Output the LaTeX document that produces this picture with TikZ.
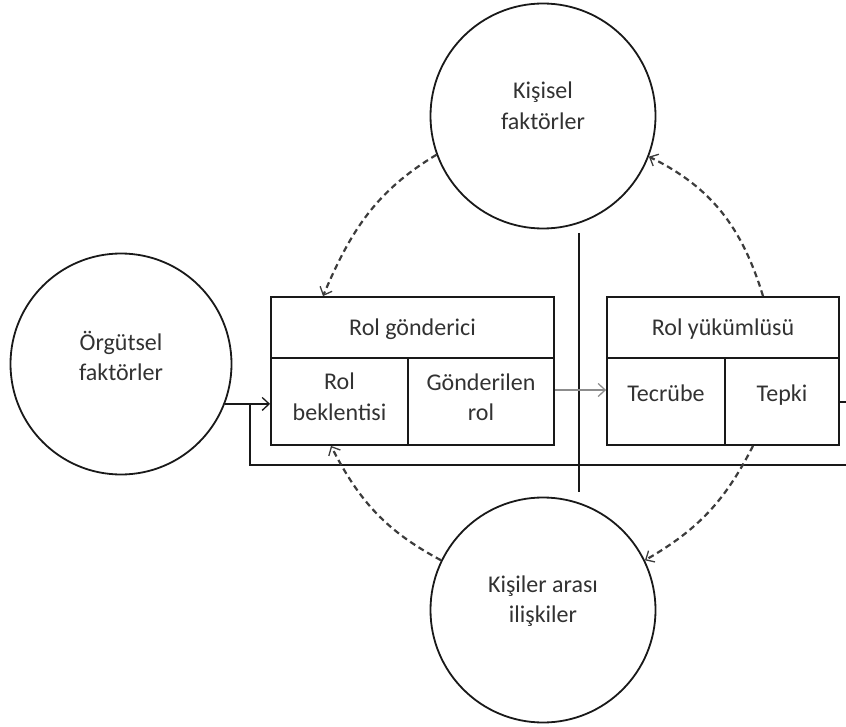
\documentclass[tikz,border=0pt]{standalone}
\usepackage{fontspec}
\setmainfont{Carlito}
\usetikzlibrary{arrows.meta}
\definecolor{txt}{RGB}{50,50,50}
\definecolor{ink}{RGB}{25,25,25}
\definecolor{grayarrow}{RGB}{140,140,140}
\begin{document}
\begin{tikzpicture}[x=1pt,y=-1pt,
  every node/.style={font=\fontsize{24}{30.5}\selectfont, text=txt},
  factor/.style={circle, draw=ink, line width=1.8pt, inner sep=0pt},
  cell/.style={rectangle, draw=ink, line width=1.8pt, inner sep=0pt, align=center},
  lbl/.style={align=center, inner sep=0pt},
  tip/.style={-{Straight Barb[length=7pt,width=13pt,line width=1.3pt]}},
  dasharrow/.style={tip, draw=ink!85, line width=2.2pt, dash pattern=on 6pt off 4pt},
  solidarrow/.style={tip, draw=ink, line width=1.8pt},
  grayarr/.style={tip, draw=grayarrow, line width=1.4pt},
  plain/.style={draw=ink, line width=1.8pt}
]
\useasboundingbox (0,0) rectangle (846,727);
\clip (0,0) rectangle (846,727);

% circles
\node[factor, minimum size=225pt] (kis) at (543,116) {};
\node[lbl] (kisT) at (543,106) {Kişisel\\faktörler};
\node[factor, minimum size=221pt] (org) at (121,364) {};
\node[lbl] (orgT) at (121,356) {Örgütsel\\faktörler};
\node[factor, minimum size=225pt] (kia) at (543,610) {};
\node[lbl] (kiaT) at (543,601) {Kişiler arası\\ilişkiler};

% box 1
\node[cell, minimum width=283pt, minimum height=61pt] (gtop) at (412.5,327.5) {};
\node[lbl, anchor=base] (gtopT) at (412.5,335) {Rol gönderici};
\node[cell, minimum width=137pt, minimum height=87pt] (gleft) at (339.5,401.5) {};
\node[lbl] (gleftT) at (339.5,397) {Rol\\beklentisi};
\node[cell, minimum width=146pt, minimum height=87pt] (gright) at (481,401.5) {};
\node[lbl] (grightT) at (481,397) {Gönderilen\\rol};

% box 2
\node[cell, minimum width=232pt, minimum height=61pt] (ytop) at (723,327.5) {};
\node[lbl, anchor=base] (ytopT) at (723,335) {Rol yükümlüsü};
\node[cell, minimum width=118pt, minimum height=87pt] (yleft) at (666,401.5) {};
\node[lbl, anchor=base] (yleftT) at (666,401) {Tecrübe};
\node[cell, minimum width=114pt, minimum height=87pt] (yright) at (782,401.5) {};
\node[lbl, anchor=base] (yrightT) at (782,401) {Tepki};

% vertical separator
\coordinate (vt) at (579,233);
\coordinate (vb) at (579,492);
\draw[plain] (vt) -- (vb);

% gray arrow
\draw[grayarr] ([yshift=11.5pt]gright.east) -- ([yshift=11.5pt]yleft.west);

% feedback loop
\coordinate (fbR1) at (880,402);
\coordinate (fbR2) at (880,465);
\coordinate (fbL) at (250,465);
\draw[plain] (yright.east |- fbR1) -- (fbR1) -- (fbR2) -- (fbL) -- (fbL |- org.-21);

% input arrow
\draw[solidarrow] (org.-21) -- (org.-21 -| gleft.west);

% dashed arcs
\draw[dasharrow] (kis.200) to[out=211,in=67] ([xshift=-89.5pt]gtop.north);
\draw[dasharrow] ([xshift=40pt]ytop.north) to[out=107,in=-26] (kis.-21);
\draw[dasharrow] (kia.154) to[out=152,in=297] ([xshift=-8.5pt]gleft.south);
\draw[dasharrow] ([xshift=-29pt]yright.south) to[out=243,in=30] (kia.26);
\end{tikzpicture}
\end{document}
